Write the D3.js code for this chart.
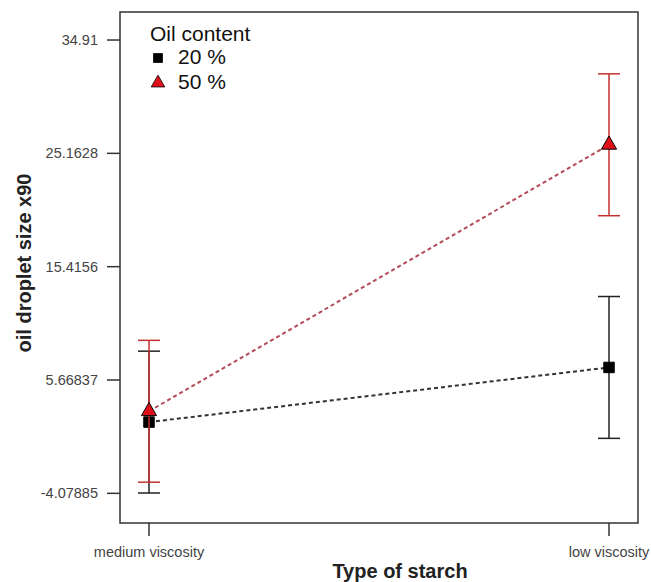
<!DOCTYPE html>
<html>
<head>
<meta charset="utf-8">
<script src="https://cdn.jsdelivr.net/npm/d3@7"></script>
<style>
  body { margin: 0; background: #fff; }
  svg { font-family: "Liberation Sans", Arial, sans-serif; }
</style>
</head>
<body>
<svg id="chart" width="651" height="582"></svg>
<script>
// data
const starchTypes = ["medium viscosity", "low viscosity"];
const yTicks = [-4.07885, 5.66837, 15.4156, 25.1628, 34.91];
const seriesNames = ["20 %", "50 %"];
const means20 = [2.05, 6.75];
const means50 = [2.98, 25.9];
const err20 = [6.1, 6.1];
const err50 = [6.1, 6.1];

const series = [
  { name: seriesNames[0], means: means20, err: err20, color: "#000", bar: "#222", line: "#333", shape: "square" },
  { name: seriesNames[1], means: means50, err: err50, color: "#e0101a", bar: "#c4302f", line: "#b24a5a", shape: "triangle" }
];

const svg = d3.select("#chart");
const plotL = 120, plotR = 638, plotT = 12, plotB = 523;

const x = d3.scalePoint()
  .domain(starchTypes)
  .range([149, 609]);

const y = d3.scaleLinear()
  .domain([-6.63, 37.32])
  .range([plotB, plotT]);

// frame
svg.append("rect")
  .attr("x", plotL).attr("y", plotT)
  .attr("width", plotR - plotL).attr("height", plotB - plotT)
  .attr("fill", "none").attr("stroke", "#333").attr("stroke-width", 1.5);

// y axis ticks
let yAxis = svg.append("g");
yAxis.selectAll("line")
  .data(yTicks).enter().append("line")
  .attr("x1", plotL - 13).attr("x2", plotL)
  .attr("y1", d => y(d)).attr("y2", d => y(d))
  .attr("stroke", "#333").attr("stroke-width", 1.5);
yAxis.selectAll("text")
  .data(yTicks).enter().append("text")
  .attr("x", plotL - 22).attr("y", d => y(d) + 5)
  .attr("text-anchor", "end")
  .attr("font-size", 14.5).attr("fill", "#444")
  .text(d => d);

// x axis ticks
let xAxis = svg.append("g");
xAxis.selectAll("line")
  .data(starchTypes).enter().append("line")
  .attr("x1", d => x(d)).attr("x2", d => x(d))
  .attr("y1", plotB).attr("y2", plotB + 13)
  .attr("stroke", "#333").attr("stroke-width", 1.5);
xAxis.selectAll("text")
  .data(starchTypes).enter().append("text")
  .attr("x", d => x(d)).attr("y", 557)
  .attr("text-anchor", "middle")
  .attr("font-size", 14.5).attr("fill", "#444")
  .text(d => d);

// axis titles
svg.append("text")
  .attr("x", 400).attr("y", 578)
  .attr("text-anchor", "middle")
  .attr("font-size", 20).attr("font-weight", "bold").attr("fill", "#222")
  .text("Type of starch");
svg.append("text")
  .attr("transform", "translate(31,263) rotate(-90)")
  .attr("text-anchor", "middle")
  .attr("font-size", 20).attr("font-weight", "bold").attr("fill", "#222")
  .text("oil droplet size x90");

const symbolFor = s => s.shape === "square"
  ? d3.symbol().type(d3.symbolSquare).size(110)
  : d3.symbol().type(d3.symbolTriangle).size(100);

series.forEach(s => {
  let g = svg.append("g");
  let pts = starchTypes.map((c, i) => ({ c: c, v: s.means[i], e: s.err[i] }));

  // error bars
  pts.forEach(p => {
    g.append("line")
      .attr("x1", x(p.c)).attr("x2", x(p.c))
      .attr("y1", y(p.v - p.e)).attr("y2", y(p.v + p.e))
      .attr("stroke", s.bar).attr("stroke-width", 1.5);
    [p.v - p.e, p.v + p.e].forEach(v => {
      g.append("line")
        .attr("x1", x(p.c) - 11).attr("x2", x(p.c) + 11)
        .attr("y1", y(v)).attr("y2", y(v))
        .attr("stroke", s.bar).attr("stroke-width", 1.5);
    });
  });

  // dashed connecting line
  g.append("path")
    .datum(pts)
    .attr("d", d3.line().x(d => x(d.c)).y(d => y(d.v)))
    .attr("fill", "none").attr("stroke", s.line)
    .attr("stroke-width", 2).attr("stroke-dasharray", "4,3");

  // markers
  g.selectAll("path.mark")
    .data(pts).enter().append("path")
    .attr("class", "mark")
    .attr("transform", d => "translate(" + x(d.c) + "," + y(d.v) + ")")
    .attr("d", symbolFor(s))
    .attr("fill", s.color).attr("stroke", "#000").attr("stroke-width", 1);
});

// legend
let legend = svg.append("g");
legend.append("text")
  .attr("x", 150).attr("y", 41)
  .attr("font-size", 21).attr("fill", "#111")
  .text("Oil content");
series.forEach((s, i) => {
  let yy = 64 + i * 25;
  legend.append("path")
    .attr("transform", "translate(158," + (yy - 6) + ")")
    .attr("d", s.shape === "square"
      ? d3.symbol().type(d3.symbolSquare).size(80)
      : d3.symbol().type(d3.symbolTriangle).size(80))
    .attr("fill", s.color).attr("stroke", "#000").attr("stroke-width", 0.8);
  legend.append("text")
    .attr("x", 178).attr("y", yy)
    .attr("font-size", 21).attr("fill", "#111")
    .text(s.name);
});
</script>
</body>
</html>
